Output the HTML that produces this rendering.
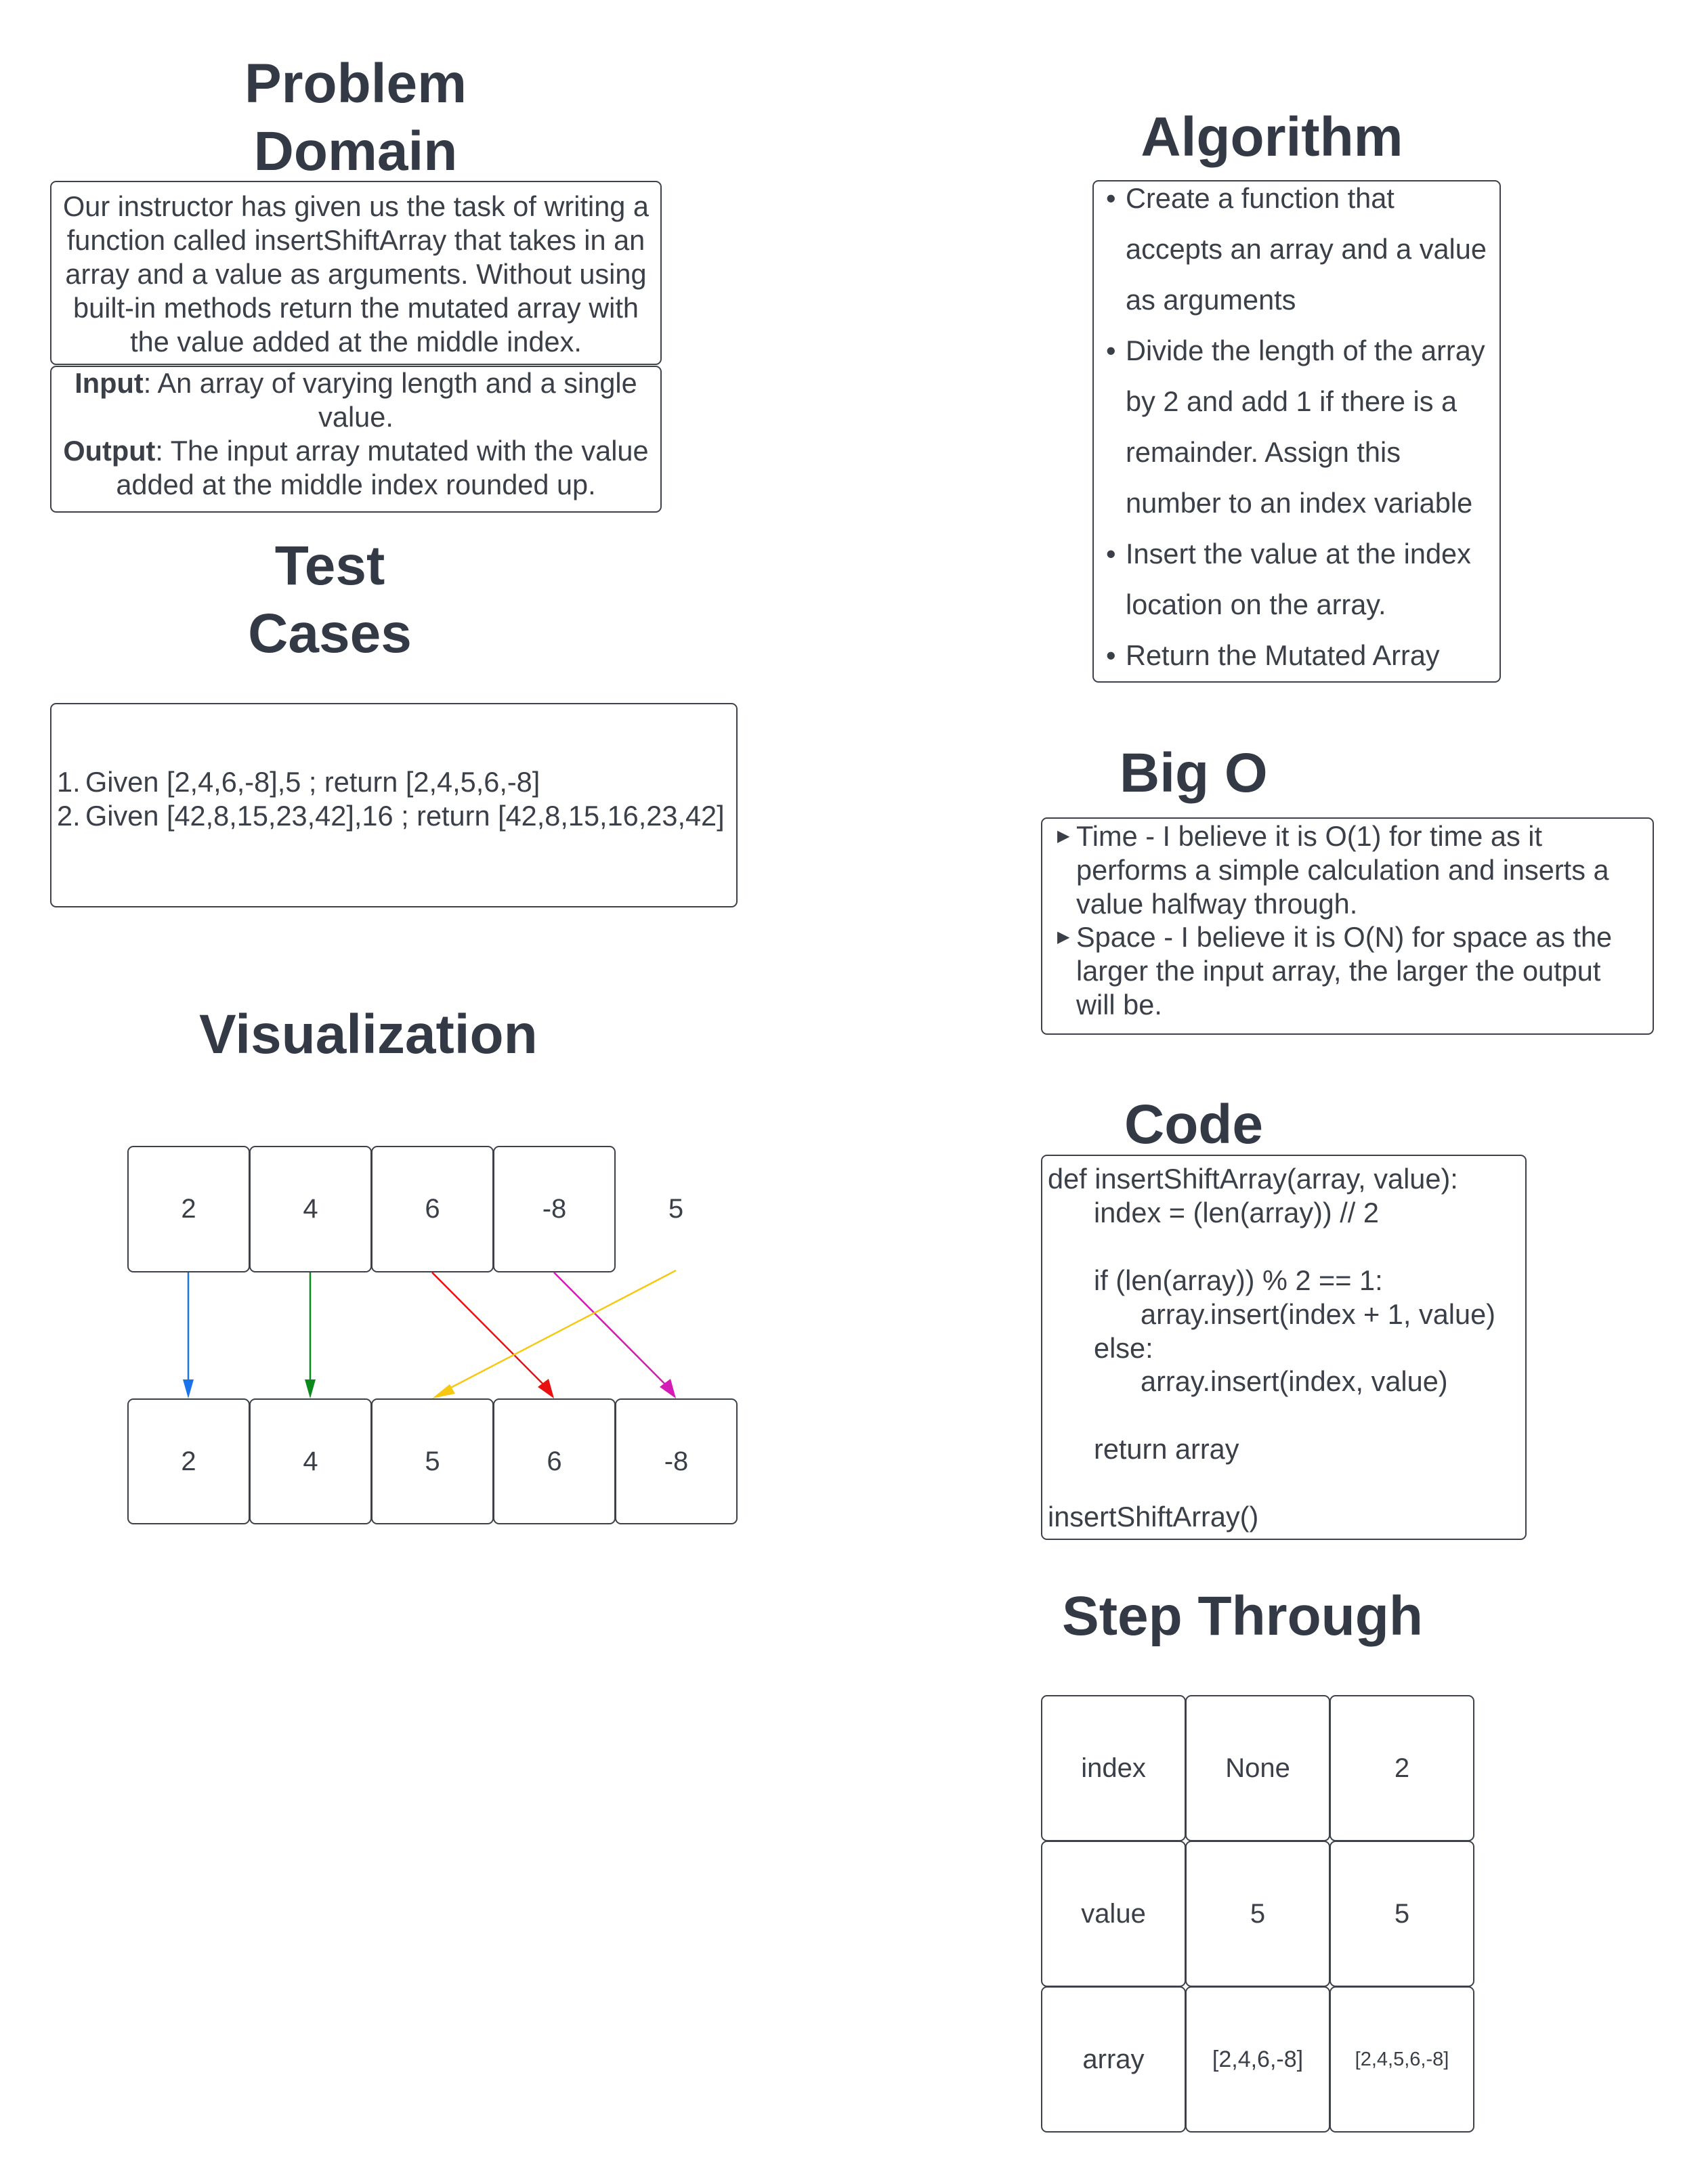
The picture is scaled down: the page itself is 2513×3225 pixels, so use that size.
<!DOCTYPE html>
<html><head><meta charset="utf-8"><style>
body{margin:0;background:#fff;}
#c{position:relative;width:2513px;height:3225px;overflow:hidden;font-family:"Liberation Sans",Arial,sans-serif;color:#3a3f48;}
.t{position:absolute;font-weight:bold;font-size:82px;line-height:100px;color:#333a45;white-space:nowrap;}
.b{position:absolute;border:2.5px solid #3d424a;border-radius:9px;box-sizing:border-box;}
.x{position:absolute;white-space:nowrap;font-size:41.5px;}
.cell{position:absolute;border:2.5px solid #3d424a;border-radius:9px;box-sizing:border-box;display:flex;align-items:center;justify-content:center;font-size:40px;}
</style></head><body><div id="c">

<div class="t" style="left:225px;top:74px;width:600px;text-align:center">Problem<br>Domain</div>
<div class="b" style="left:74px;top:267px;width:903px;height:272px"></div>
<div class="x" style="left:74px;top:280px;width:903px;text-align:center;line-height:50px">Our instructor has given us the task of writing a<br>function called insertShiftArray that takes in an<br>array and a value as arguments. Without using<br>built-in methods return the mutated array with<br>the value added at the middle index.</div>
<div class="b" style="left:74px;top:540px;width:903px;height:217px"></div>
<div class="x" style="left:74px;top:541px;width:903px;text-align:center;line-height:50px"><b>Input</b>: An array of varying length and a single<br>value.<br><b>Output</b>: The input array mutated with the value<br>added at the middle index rounded up.</div>

<div class="t" style="left:187px;top:786px;width:600px;text-align:center">Test<br>Cases</div>
<div class="b" style="left:74px;top:1038px;width:1015px;height:302px"></div>
<div class="x" style="left:84px;top:1130px;line-height:49.5px;font-size:41.5px">1.<br>2.</div>
<div class="x" style="left:126px;top:1130px;line-height:49.5px;font-size:41.5px">Given [2,4,6,-8],5 ; return [2,4,5,6,-8]<br>Given [42,8,15,23,42],16 ; return [42,8,15,16,23,42]</div>

<div class="t" style="left:1578px;top:153px;width:600px;text-align:center">Algorithm</div>
<div class="b" style="left:1613px;top:266px;width:603px;height:742px"></div>
<div class="x" style="left:1633px;top:255px;line-height:75px">•<br><br><br>•<br><br><br><br>•<br><br>•</div>
<div class="x" style="left:1662px;top:255px;line-height:75px">Create a function that<br>accepts an array and a value<br>as arguments<br>Divide the length of the array<br>by 2 and add 1 if there is a<br>remainder. Assign this<br>number to an index variable<br>Insert the value at the index<br>location on the array.<br>Return the Mutated Array</div>

<div class="t" style="left:1653px;top:1092px">Big O</div>
<div class="b" style="left:1537px;top:1207px;width:905px;height:321px"></div>
<div class="x" style="left:1561px;top:1210px;line-height:49.8px;font-size:24px">▶<br><br><br>▶</div>
<div class="x" style="left:1589px;top:1210px;line-height:49.8px">Time - I believe it is O(1) for time as it<br>performs a simple calculation and inserts a<br>value halfway through.<br>Space - I believe it is O(N) for space as the<br>larger the input array, the larger the output<br>will be.</div>

<div class="t" style="left:294px;top:1478px">Visualization</div>
<div class="cell" style="left:188px;top:1692px;width:181px;height:187px">2</div>
<div class="cell" style="left:368px;top:1692px;width:181px;height:187px">4</div>
<div class="cell" style="left:548px;top:1692px;width:181px;height:187px">6</div>
<div class="cell" style="left:728px;top:1692px;width:181px;height:187px">-8</div>
<div class="cell" style="left:908px;top:1692px;width:180px;height:187px;border:none">5</div>
<div class="cell" style="left:188px;top:2065px;width:181px;height:186px">2</div>
<div class="cell" style="left:368px;top:2065px;width:181px;height:186px">4</div>
<div class="cell" style="left:548px;top:2065px;width:181px;height:186px">5</div>
<div class="cell" style="left:728px;top:2065px;width:181px;height:186px">6</div>
<div class="cell" style="left:908px;top:2065px;width:181px;height:186px">-8</div>
<svg style="position:absolute;left:0;top:0" width="2513" height="3225">
<line x1="278" y1="1879" x2="278" y2="2039" stroke="#1a73e8" stroke-width="2.5"/>
<polygon points="270,2037 286,2037 278,2065" fill="#1a73e8"/>
<line x1="458" y1="1879" x2="458" y2="2039" stroke="#0a8a1a" stroke-width="2.5"/>
<polygon points="450,2037 466,2037 458,2065" fill="#0a8a1a"/>
<line x1="638" y1="1879" x2="802" y2="2044" stroke="#e81010" stroke-width="2.5"/>
<polygon points="794,2048 810,2036 818,2065" fill="#e81010"/>
<line x1="818" y1="1879" x2="982" y2="2044" stroke="#d41bb5" stroke-width="2.5"/>
<polygon points="974,2048 990,2036 998,2065" fill="#d41bb5"/>
<line x1="998" y1="1876" x2="660" y2="2052" stroke="#f7c811" stroke-width="2.5"/>
<polygon points="664,2044 672,2058 638,2065" fill="#f7c811"/>
</svg>

<div class="t" style="left:1660px;top:1611px">Code</div>
<div class="b" style="left:1537px;top:1705px;width:717px;height:569px"></div>
<div class="x" style="left:1547px;top:1716px;line-height:49.9px">def insertShiftArray(array, value):<br><span style="padding-left:68px">index = (len(array)) // 2</span><br><br><span style="padding-left:68px">if (len(array)) % 2 == 1:</span><br><span style="padding-left:137px">array.insert(index + 1, value)</span><br><span style="padding-left:68px">else:</span><br><span style="padding-left:137px">array.insert(index, value)</span><br><br><span style="padding-left:68px">return array</span><br><br>insertShiftArray()</div>

<div class="t" style="left:1568px;top:2337px">Step Through</div>
<div class="cell" style="left:1537px;top:2503px;width:214px;height:216px">index</div>
<div class="cell" style="left:1750px;top:2503px;width:214px;height:216px">None</div>
<div class="cell" style="left:1963px;top:2503px;width:214px;height:216px">2</div>
<div class="cell" style="left:1537px;top:2718px;width:214px;height:216px">value</div>
<div class="cell" style="left:1750px;top:2718px;width:214px;height:216px">5</div>
<div class="cell" style="left:1963px;top:2718px;width:214px;height:216px">5</div>
<div class="cell" style="left:1537px;top:2933px;width:214px;height:216px">array</div>
<div class="cell" style="left:1750px;top:2933px;width:214px;height:216px;font-size:34px">[2,4,6,-8]</div>
<div class="cell" style="left:1963px;top:2933px;width:214px;height:216px;font-size:29px">[2,4,5,6,-8]</div>

</div></body></html>
